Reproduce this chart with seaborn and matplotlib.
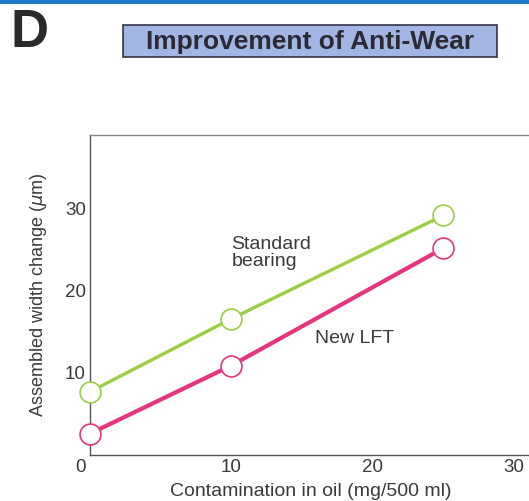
import matplotlib
matplotlib.use("Agg")
import matplotlib.pyplot as plt
import matplotlib.transforms as mtrans
import seaborn as sns
import pandas as pd
from matplotlib.patches import Rectangle

sns.set_style("white")
plt.rcParams['font.family'] = ['Liberation Sans', 'DejaVu Sans']

# Data
contamination = [0, 10, 25]
standard_bearing = [7.7, 16.6, 29.2]
new_lft = [2.6, 10.9, 25.2]
x_ticks = [0, 10, 20, 30]
y_ticks = [10, 20, 30]

GREEN = "#9ccd45"
PINK = "#e8347c"

df = pd.DataFrame({
    "Contamination": contamination * 2,
    "Change": standard_bearing + new_lft,
    "Bearing": ["Standard bearing"] * 3 + ["New LFT"] * 3,
})

fig = plt.figure(figsize=(5.29, 5.01), dpi=100)
ax = fig.add_axes([0.170, 0.0918, 0.836, 0.6387])

for name, color, lw in [("Standard bearing", GREEN, 2.4), ("New LFT", PINK, 3.0)]:
    sub = df[df["Bearing"] == name]
    sns.lineplot(data=sub, x="Contamination", y="Change", ax=ax, color=color,
                 linewidth=lw, marker="o", markersize=15, markerfacecolor="white",
                 markeredgecolor=color, markeredgewidth=1.2, legend=False,
                 clip_on=False, zorder=3)

ax.set_xlim(0, 31.3)
ax.set_ylim(0, 39)
ax.set_xticks(x_ticks)
ax.set_yticks(y_ticks)
ax.tick_params(axis="both", direction="in", length=6, width=0.9, color="#444444",
               labelsize=13.5, labelcolor="#3a3a3a", pad=3)
for s in ["left", "bottom", "top"]:
    ax.spines[s].set_color("#555555")
    ax.spines[s].set_linewidth(1.0)
ax.spines["right"].set_visible(False)
ax.spines["top"].set_color("#888888")

# shift the "0" label left of the origin, as in the reference
lbl0 = ax.get_xticklabels()[0]
lbl0.set_transform(lbl0.get_transform() + mtrans.ScaledTranslation(-9 / 100, 0, fig.dpi_scale_trans))

ax.set_xlabel("Contamination in oil (mg/500 ml)", fontsize=14, color="#3a3a3a", labelpad=5)
ax.set_ylabel(r"Assembled width change ($\mu$m)", fontsize=13, color="#3a3a3a", labelpad=11)

ax.text(10.0, 24.6, "Standard\nbearing", fontsize=14, color="#3a3a3a", ha="left", va="center",
        linespacing=1.05)
ax.text(15.9, 14.2, "New LFT", fontsize=14, color="#3a3a3a", ha="left", va="center")

# Header decorations
fig.patches.append(Rectangle((0, 1 - 4 / 501), 1, 4 / 501, transform=fig.transFigure,
                             facecolor="#1e78c8", edgecolor="none"))
fig.patches.append(Rectangle((123 / 529, 1 - 57 / 501), (497 - 123) / 529, 32 / 501,
                             transform=fig.transFigure, facecolor="#a3b5e3",
                             edgecolor="#333344", linewidth=1.2))
fig.text(310 / 529, 1 - 42 / 501, "Improvement of Anti-Wear", fontsize=19, fontweight="bold",
         color="#2a2a33", ha="center", va="center")
fig.text(10 / 529, 1 - 33 / 501, "D", fontsize=38, fontweight="bold", color="#2a2a2a",
         ha="left", va="center")

fig.savefig("out.png", dpi=100)
